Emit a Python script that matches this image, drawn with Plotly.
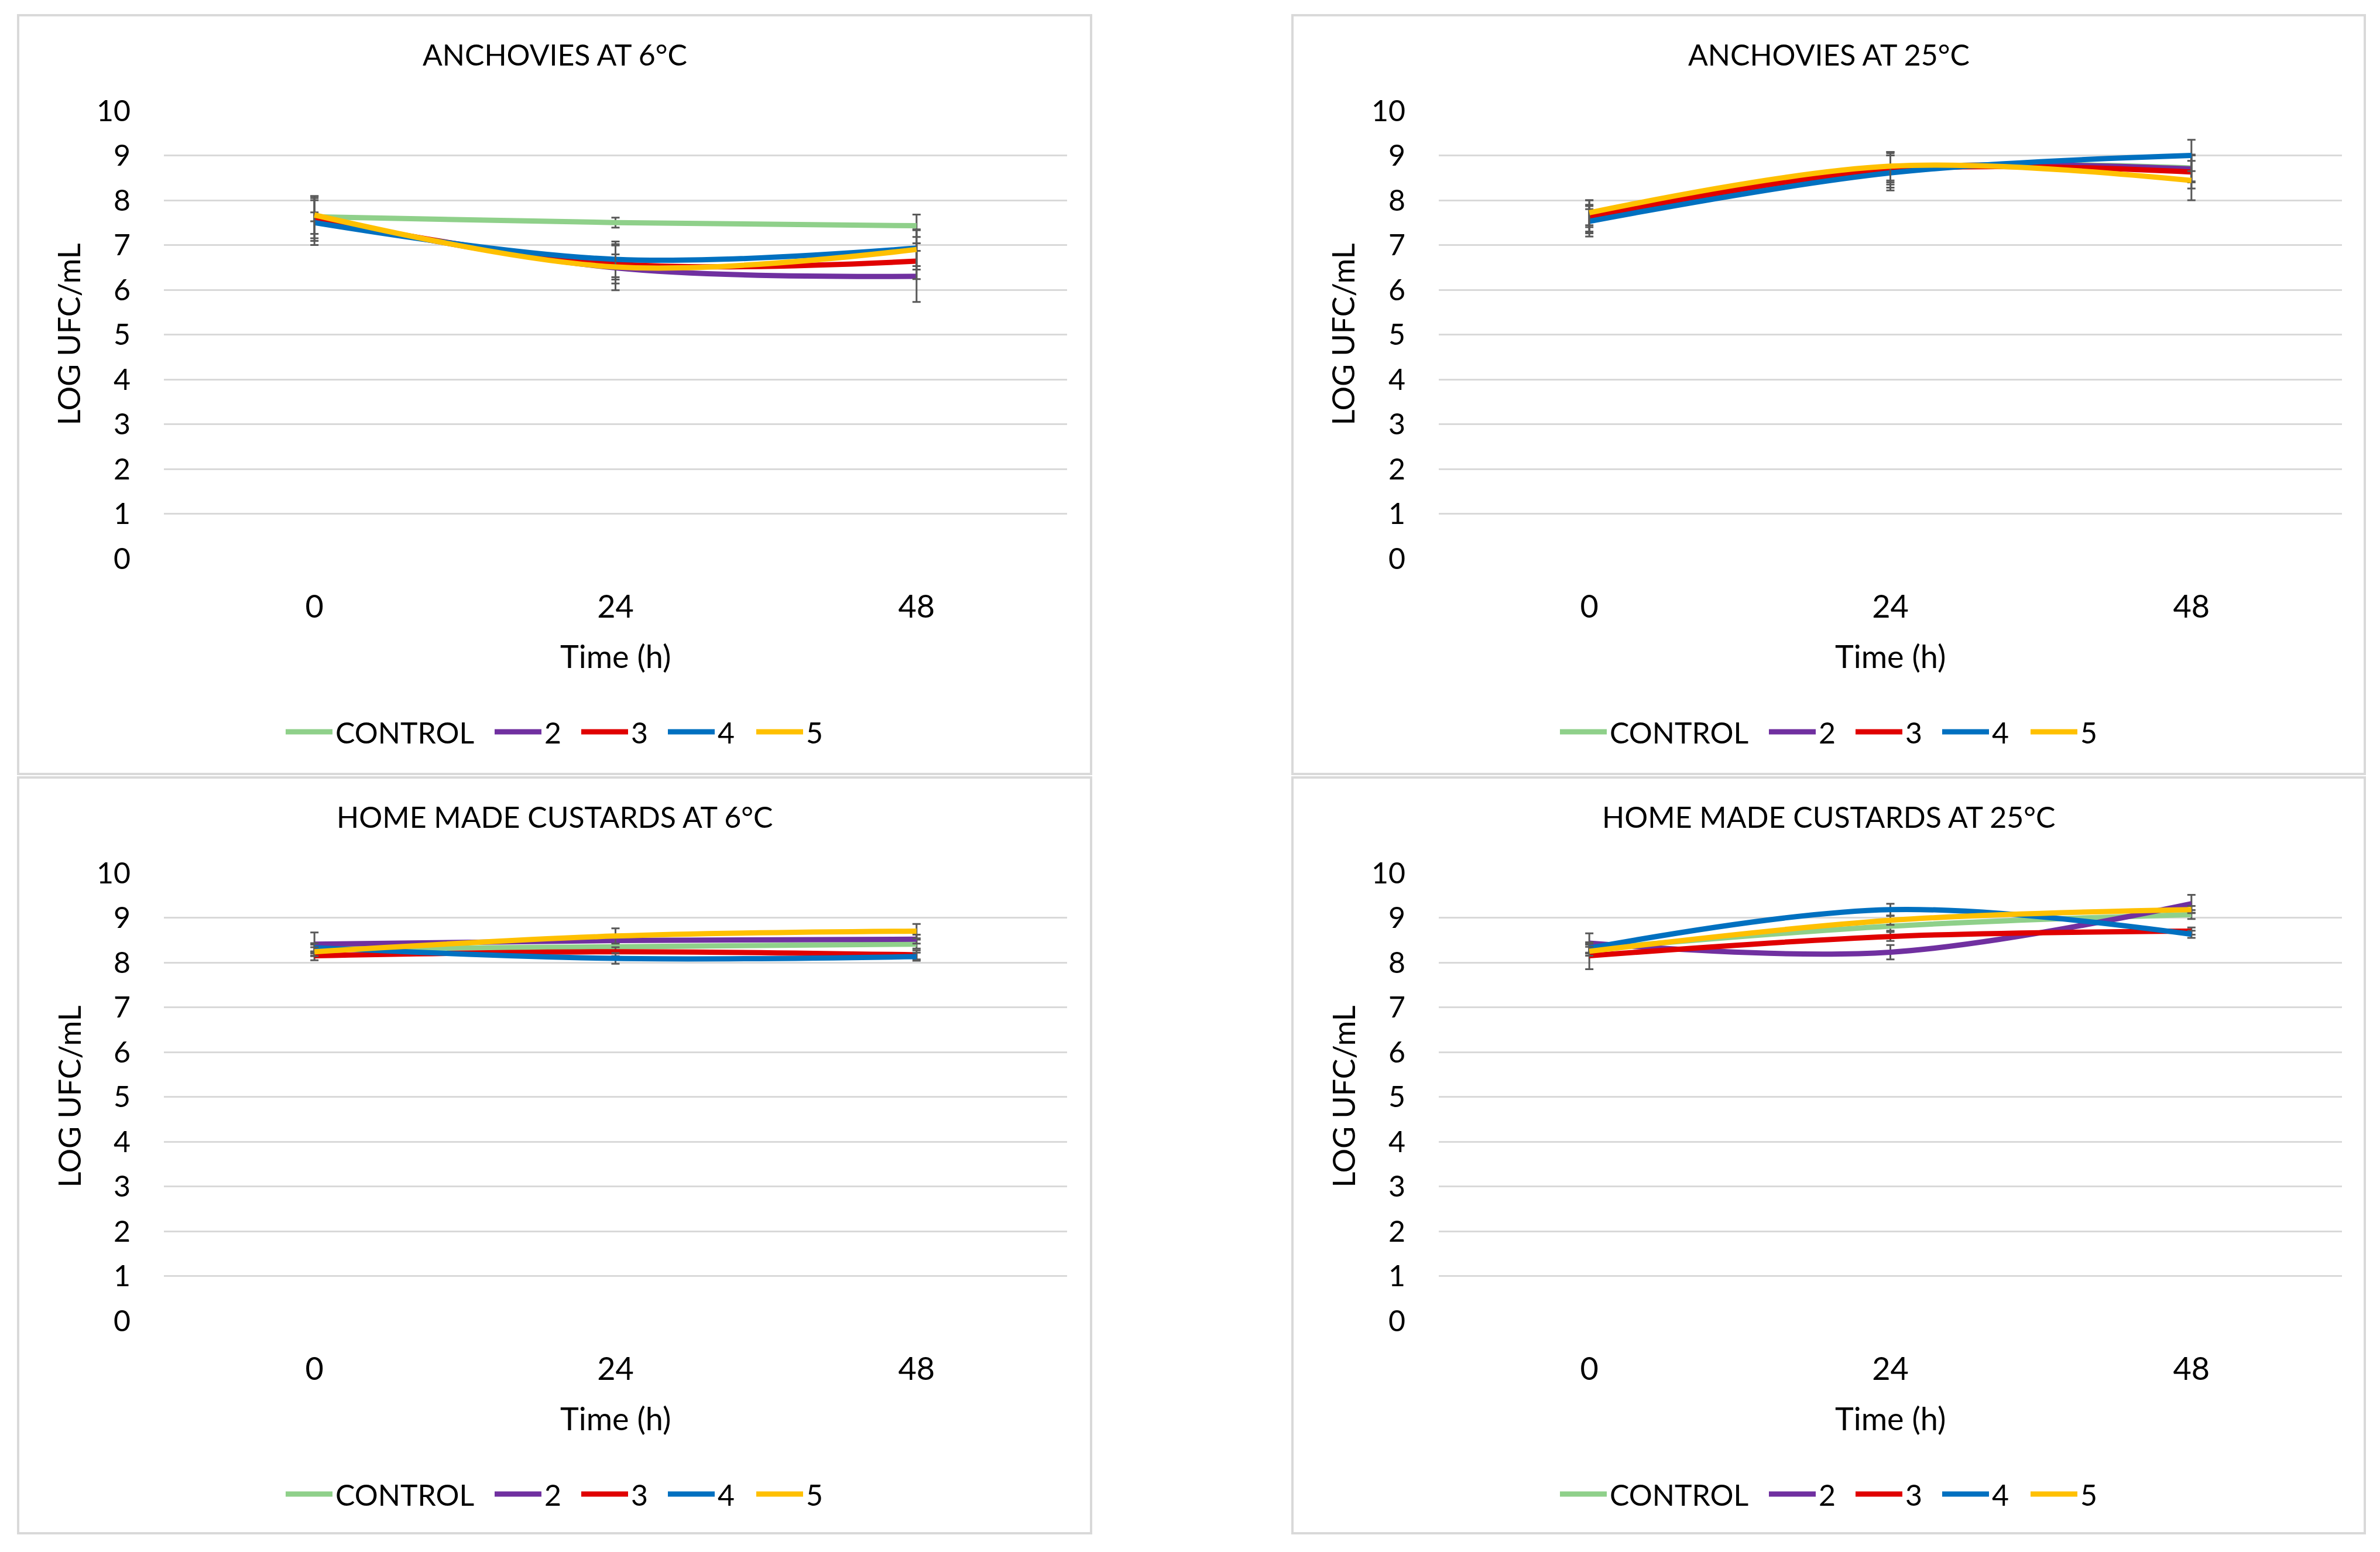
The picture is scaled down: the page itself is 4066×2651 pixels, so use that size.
import plotly.graph_objects as go

W, H = 4066, 2651

times = ["0", "24", "48"]
series_names = ["CONTROL", "2", "3", "4", "5"]
series_colors = ["#8FD08A", "#7030A0", "#E00000", "#0070C0", "#FFC000"]

panel_titles = ["ANCHOVIES AT 6°C", "ANCHOVIES AT 25°C",
                "HOME MADE CUSTARDS AT 6°C", "HOME MADE CUSTARDS AT 25°C"]

# Anchovies at 6 °C
anch6_vals = [[7.63, 7.50, 7.43], [7.60, 6.49, 6.30], [7.59, 6.58, 6.64],
              [7.50, 6.68, 6.93], [7.67, 6.51, 6.90]]
anch6_err = [[0.10, 0.11, 0.25], [0.45, 0.50, 0.57], [0.50, 0.44, 0.40],
             [0.50, 0.40, 0.40], [0.42, 0.28, 0.45]]
# Anchovies at 25 °C
anch25_vals = [[7.60, 8.70, 8.72], [7.60, 8.70, 8.70], [7.63, 8.68, 8.63],
               [7.53, 8.61, 9.00], [7.72, 8.76, 8.44]]
anch25_err = [[0.20, 0.30, 0.30], [0.30, 0.35, 0.30], [0.37, 0.40, 0.37],
              [0.34, 0.39, 0.35], [0.28, 0.32, 0.44]]
# Home made custards at 6 °C
cust6_vals = [[8.30, 8.35, 8.41], [8.41, 8.49, 8.52], [8.15, 8.24, 8.17],
              [8.33, 8.09, 8.13], [8.24, 8.59, 8.70]]
cust6_err = [[0.10, 0.10, 0.10], [0.26, 0.05, 0.10], [0.10, 0.10, 0.10],
             [0.10, 0.12, 0.09], [0.10, 0.17, 0.16]]
# Home made custards at 25 °C
cust25_vals = [[8.30, 8.81, 9.07], [8.43, 8.23, 9.31], [8.15, 8.58, 8.70],
               [8.32, 9.18, 8.63], [8.25, 8.94, 9.18]]
cust25_err = [[0.10, 0.10, 0.10], [0.22, 0.16, 0.20], [0.30, 0.10, 0.08],
              [0.10, 0.13, 0.08], [0.10, 0.10, 0.08]]

y_ticks = list(range(0, 11))

panels_vals = [anch6_vals, anch25_vals, cust6_vals, cust25_vals]
panels_err = [anch6_err, anch25_err, cust6_err, cust25_err]

FONT = "Lato, Calibri, 'Noto Sans', sans-serif"
GRID = "#D9D9D9"

# geometry in pixels (top-left origin)
panel_left = [31, 2208, 31, 2208]
panel_right = [1864, 4040, 1864, 4040]
panel_top = [26, 26, 1328, 1328]
panel_bottom = [1322, 1322, 2619, 2619]
plot_x0 = [280, 2458, 280, 2458]
plot_x1 = [1823, 4001, 1823, 4001]
plot_ytop = [189, 189, 1491, 1491]
plot_ybot = [954, 954, 2256, 2256]
# start of each legend entry, measured from the panel's left edge
legend_item_x = [462, 819, 967, 1115, 1266]
LEG_PAD = 10

OFF = 8  # page body margin compensation

def px(x):
    return (x - OFF) / W

def py(y):
    return 1 - (y - OFF) / H

fig = go.Figure()
layout = dict(
    width=W, height=H, paper_bgcolor="white", plot_bgcolor="white",
    margin=dict(l=0, r=0, t=0, b=0, pad=0, autoexpand=False), showlegend=True,
    font=dict(family=FONT, color="#000000", size=50),
)
annotations = []
shapes = []

for p in range(4):
    sfx = "" if p == 0 else str(p + 1)
    xa, ya = "x" + sfx, "y" + sfx
    for s in range(5):
        idx = p * 5 + s + 1
        lg = "legend" if idx == 1 else "legend" + str(idx)
        fig.add_trace(go.Scatter(
            x=times, y=panels_vals[p][s], name=series_names[s],
            mode="lines", line=dict(color=series_colors[s], width=9, shape="spline"),
            error_y=dict(type="data", array=panels_err[p][s], visible=True,
                         color="#595959", thickness=3, width=7),
            xaxis=xa, yaxis=ya, legend=lg,
        ))
        layout[lg] = dict(
            orientation="h", x=px(panel_left[p] + legend_item_x[s] - LEG_PAD),
            y=py(panel_top[p] + 1224), xanchor="left", yanchor="middle",
            font=dict(size=50, family=FONT), itemwidth=80, bgcolor="rgba(0,0,0,0)",
            tracegroupgap=0,
        )
    layout["xaxis" + sfx] = dict(
        domain=[px(plot_x0[p]), px(plot_x1[p])], anchor=ya, type="category",
        range=[-0.5, 2.5], showgrid=False, zeroline=False, showline=False,
        ticks="", tickfont=dict(size=54, family=FONT), ticklabelstandoff=46,
        automargin=False,
    )
    layout["yaxis" + sfx] = dict(
        domain=[py(plot_ybot[p]), py(plot_ytop[p])], anchor=xa,
        range=[0, 10], tickvals=y_ticks, showgrid=True, gridcolor=GRID, gridwidth=3,
        zeroline=False, showline=False, ticks="",
        tickfont=dict(size=50, family=FONT), ticklabelstandoff=56,
        automargin=False,
    )
    cx = (panel_left[p] + panel_right[p]) / 2
    annotations.append(dict(
        text=panel_titles[p], x=px(cx), y=py(panel_top[p] + 67), xref="paper",
        yref="paper", showarrow=False, xanchor="center", yanchor="middle",
        font=dict(size=50, family=FONT),
    ))
    annotations.append(dict(
        text="Time (h)", x=px((plot_x0[p] + plot_x1[p]) / 2), y=py(panel_top[p] + 1094),
        xref="paper", yref="paper", showarrow=False, xanchor="center",
        yanchor="middle", font=dict(size=54, family=FONT),
    ))
    annotations.append(dict(
        text="LOG UFC/mL", x=px(panel_left[p] + 86), y=py((plot_ytop[p] + plot_ybot[p]) / 2),
        xref="paper", yref="paper", showarrow=False, xanchor="center",
        yanchor="middle", textangle=-90, font=dict(size=52, family=FONT),
    ))
    shapes.append(dict(
        type="rect", xref="paper", yref="paper",
        x0=px(panel_left[p]), x1=px(panel_right[p]),
        y0=py(panel_bottom[p]), y1=py(panel_top[p]),
        line=dict(color=GRID, width=4), fillcolor="rgba(0,0,0,0)", layer="below",
    ))

layout["annotations"] = annotations
layout["shapes"] = shapes
fig.update_layout(**layout)
fig.write_html("out.html")
